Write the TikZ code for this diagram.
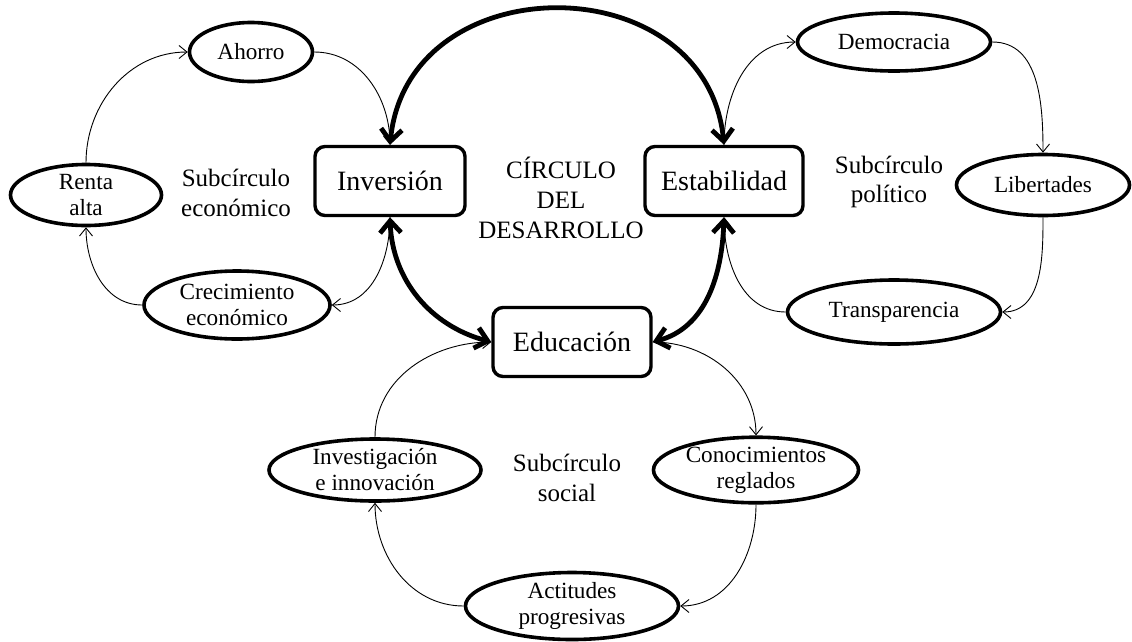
\documentclass[tikz,border=0pt]{standalone}
\usepackage{fontspec}
\setmainfont{Liberation Serif}
\usetikzlibrary{shapes.geometric,arrows.meta}
\begin{document}
\begin{tikzpicture}[x=1pt,y=-1pt,
  ell/.style={ellipse,draw,line width=3.6pt,inner sep=0pt,align=center,font=\fontsize{23.2}{26}\selectfont},
  bigbox/.style={rectangle,draw,line width=3.4pt,rounded corners=10pt,inner sep=0pt,align=center,minimum height=69pt,font=\fontsize{28}{32}\selectfont},
  lbl/.style={align=center,inner sep=0pt,font=\fontsize{25}{29.5}\selectfont},
  thin/.style={line width=0.9pt,-{Straight Barb[length=8pt,width=13pt]}},
  thick/.style={line width=4.8pt,{Straight Barb[length=12pt,width=21pt]}-{Straight Barb[length=12pt,width=21pt]}}]
\useasboundingbox (0,0) rectangle (1132,641);
% main boxes
\node[bigbox,minimum width=150pt] (inv) at (390,181) {Inversión};
\node[bigbox,minimum width=158pt] (est) at (724,181) {Estabilidad};
\node[bigbox,minimum width=158pt] (edu) at (572,342) {Educación};
% economic
\node[ell,minimum width=123pt,minimum height=59pt] (aho) at (251,52) {Ahorro};
\node[ell,minimum width=151pt,minimum height=61pt] (ren) at (86,195) {Renta\\alta};
\node[ell,minimum width=186pt,minimum height=68pt] (cre) at (237,305) {Crecimiento\\económico};
% political
\node[ell,minimum width=193pt,minimum height=58pt] (dem) at (894,42) {Democracia};
\node[ell,minimum width=173pt,minimum height=61pt] (lib) at (1043,185) {Libertades};
\node[ell,minimum width=213pt,minimum height=64pt] (tra) at (894,312) {Transparencia};
% social
\node[ell,minimum width=212pt,minimum height=62pt] (inn) at (375,470) {Investigación\\e innovación};
\node[ell,minimum width=205pt,minimum height=62pt] (con) at (756,470) {Conocimientos\\reglados};
\node[ell,minimum width=213pt,minimum height=67pt] (act) at (572,606) {Actitudes\\progresivas};
% labels
\node[lbl] (leco) at (236,193) {Subcírculo\\económico};
\node[lbl] (lpol) at (889,182) {Subcírculo\\político};
\node[lbl] (lsoc) at (567,478) {Subcírculo\\social};
\node[lbl,font=\fontsize{25}{30}\selectfont] (lcir) at (561,198) {CÍRCULO\\DEL\\DESARROLLO};
% thin connectors
\draw[thin] (ren.north) to[out=90,in=180] (aho.west);
\draw[thin] (aho.east) to[out=0,in=90] (inv.north);
\draw[thin] (inv.south) to[out=-90,in=0] (cre.east);
\draw[thin] (cre.west) to[out=180,in=-90] (ren.south);
\draw[thin] (est.north) to[out=90,in=180] (dem.west);
\draw[thin] (dem.east) to[out=0,in=90] (lib.north);
\draw[thin] (lib.south) to[out=-90,in=0] (tra.east);
\draw[thin] (tra.west) to[out=180,in=-90] (est.south);
\draw[thin] (edu.east) to[out=0,in=90] (con.north);
\draw[thin] (con.south) to[out=-90,in=0] (act.east);
\draw[thin] (act.west) to[out=180,in=-90] (inn.south);
\draw[thin] (inn.north) to[out=90,in=180] (edu.west);
% thick connectors
\draw[thick] (inv.north) .. controls (408,-36) and (706,-36) .. (est.north);
\draw[thick] (inv.south) to[out=-88,in=165] (edu.west);
\draw[thick] (est.south) to[out=-92,in=15] (edu.east);
\end{tikzpicture}
\end{document}
